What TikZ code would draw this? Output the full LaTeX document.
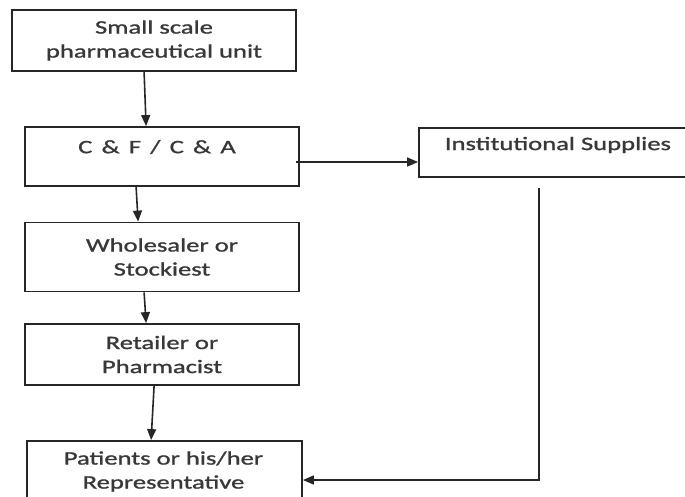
\documentclass[tikz,border=0pt]{standalone}
\usepackage{fontspec}
\setmainfont{Carlito}[FakeStretch=1.4,FakeBold=1.2]
\usetikzlibrary{arrows.meta,calc}

\definecolor{inkline}{HTML}{262626}
\definecolor{inktext}{HTML}{383838}

\begin{document}
\begin{tikzpicture}[x=1pt,y=-1pt,
  box/.style={draw=inkline,line width=1.8pt,rectangle,inner sep=0pt,
    minimum width=#1,align=center,text=inktext,
    font=\fontsize{19}{24}\selectfont},
  caption/.style={text=inktext,inner sep=0pt,align=center,
    font=\fontsize{19}{24}\selectfont},
  flow/.style={draw=inkline,line width=1.6pt,
    -{Triangle[length=11pt,width=9pt]}}]
\useasboundingbox (0,0) rectangle (685,496);

% boxes of the distribution chain
\node[box=284pt,minimum height=61pt] (b1) at (154,40.5)
  {Small scale\\pharmaceutical unit};
\node[box=274pt,minimum height=59pt] (b2) at (162,156.5) {};
\node[caption] (t2) at (157,147) {C \,\&\, F \,/\, C \,\&\, A};
\node[box=274pt,minimum height=69pt] (b3) at (162,257)
  {Wholesaler or\\Stockiest};
\node[box=274pt,minimum height=61pt] (b4) at (162,354.5)
  {Retailer or\\Pharmacist};
\node[box=275pt,minimum height=70pt] (b5) at (164.5,476) {};
\node[caption] (t5) at (163.5,471.5) {Patients or his/her\\Representative};
\node[box=282pt,minimum height=49pt] (inst) at (560,152.5) {};
\node[caption] (ti) at (558,145) {Institutional Supplies};

% connectors
\draw[flow] ($(b1.south west)+(133,0)$) -- ($(b2.north west)+(122,0)$);
\draw[flow] ($(b2.south west)+(112,0)$) -- ($(b3.north west)+(114,0)$);
\draw[flow] ($(b3.south west)+(120,0)$) -- ($(b4.north west)+(122,0)$);
\draw[flow] ($(b4.south west)+(130,0)$) -- ($(b5.north west)+(125,0)$);
\draw[flow] ($(b2.east)+(-4,5.5)$) -- ($(inst.west)+(0,9.5)$);
\draw[flow] ($(inst.south west)+(121,10)$) |- ($(b5.east)+(0,4)$);
\end{tikzpicture}
\end{document}
